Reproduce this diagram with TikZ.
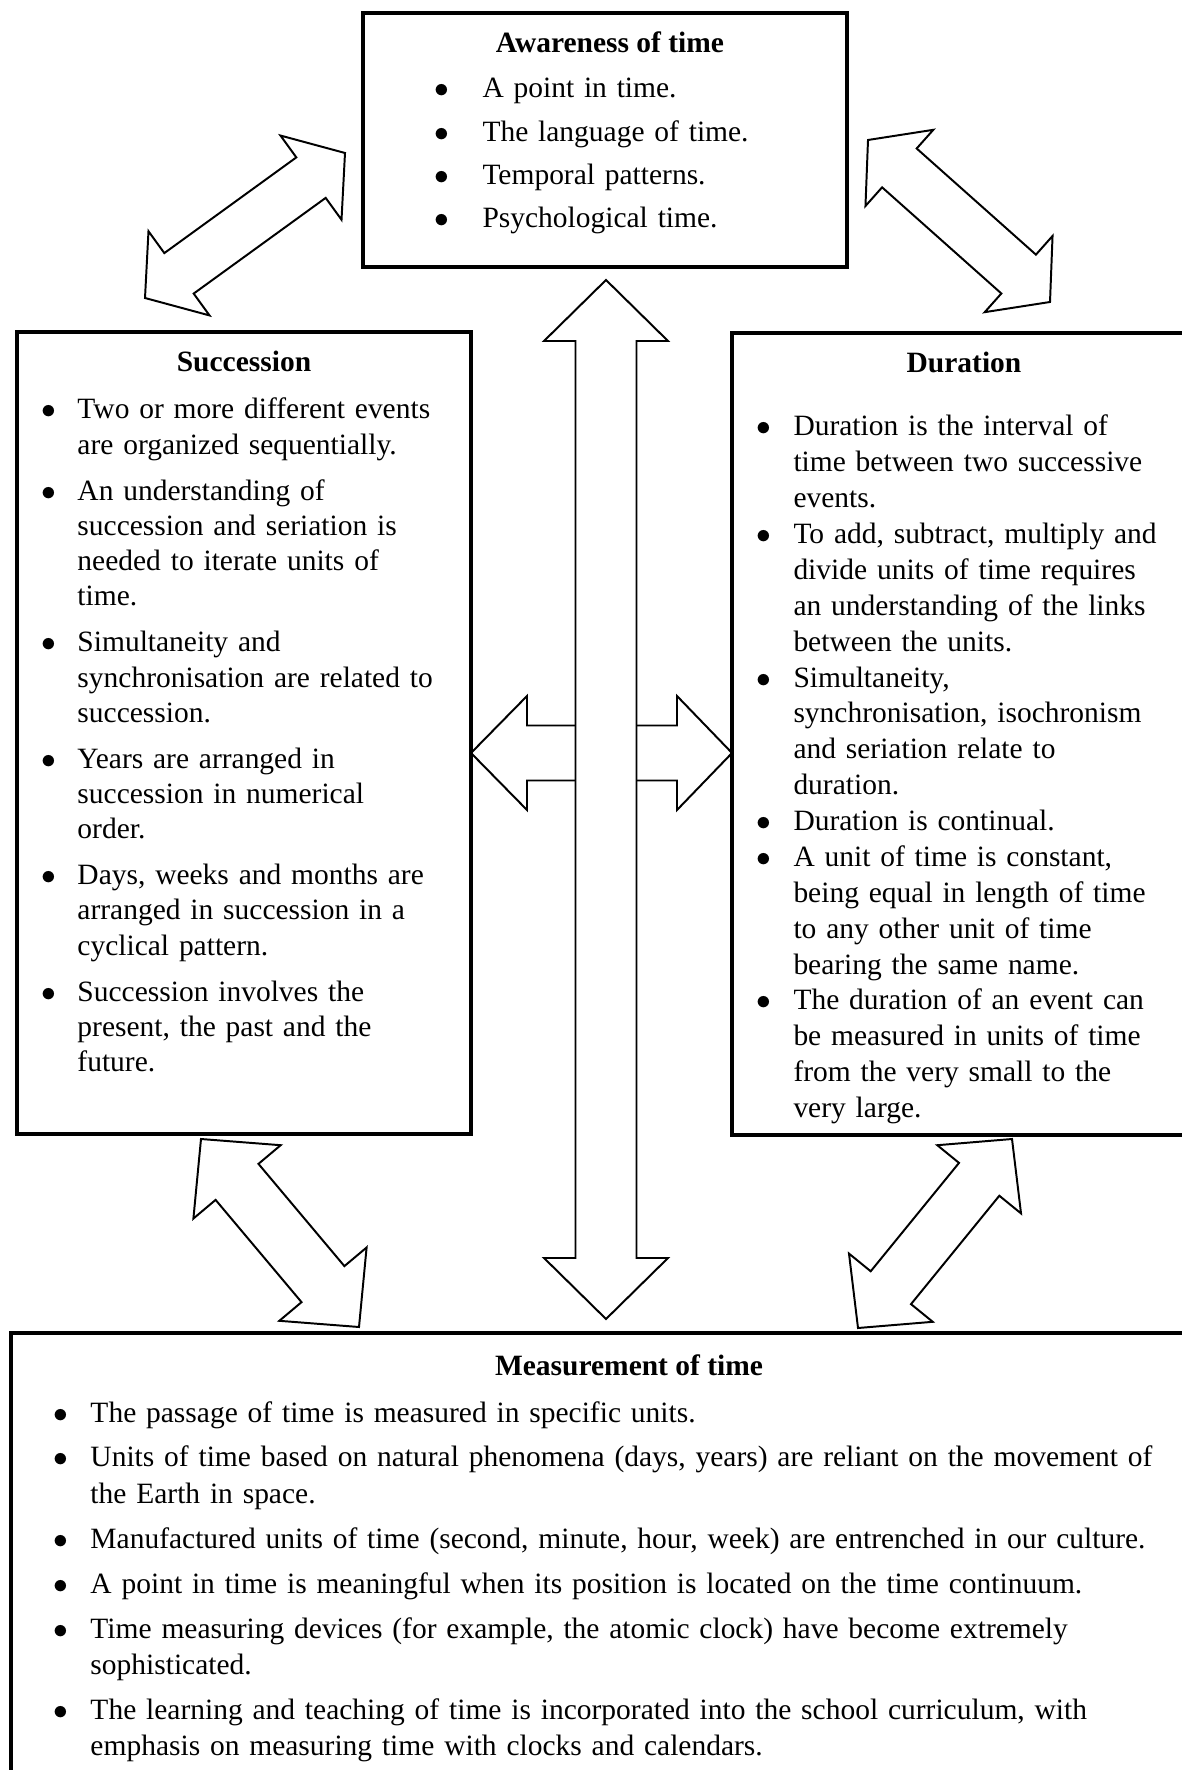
\documentclass[tikz,border=0pt]{standalone}
\usepackage{fontspec}
\setmainfont{Liberation Serif}
\usetikzlibrary{calc,fit,positioning}

\newlength{\px}\setlength{\px}{0.407pt}
\newlength{\bulw}
% one bullet point with hanging indent
\newcommand{\itm}[1]{\ifhmode\else\noindent\fi\hangindent=\bulw\hangafter=1\makebox[\bulw][l]{$\bullet$}#1\par}
% block double arrow between two points: from, to, head length, head half width, shaft half width (px)
\newcommand{\dblarrow}[5]{%
  \pgfmathsetlengthmacro{\ahl}{#3*\px}%
  \pgfmathsetlengthmacro{\ahw}{#4*\px}%
  \pgfmathsetlengthmacro{\asw}{#5*\px}%
  \draw[Block] (#1) -- ($(#1)!\ahl!(#2)!\ahw!90:(#2)$) -- ($(#1)!\ahl!(#2)!\asw!90:(#2)$)
    -- ($(#2)!\ahl!(#1)!\asw!-90:(#1)$) -- ($(#2)!\ahl!(#1)!\ahw!-90:(#1)$) -- (#2)
    -- ($(#2)!\ahl!(#1)!\ahw!90:(#1)$) -- ($(#2)!\ahl!(#1)!\asw!90:(#1)$)
    -- ($(#1)!\ahl!(#2)!\asw!-90:(#2)$) -- ($(#1)!\ahl!(#2)!\ahw!-90:(#2)$) -- cycle;}
% block arrow open at its tail (leaves the central shaft)
\newcommand{\sidearrow}[5]{%
  \pgfmathsetlengthmacro{\ahl}{#3*\px}%
  \pgfmathsetlengthmacro{\ahw}{#4*\px}%
  \pgfmathsetlengthmacro{\asw}{#5*\px}%
  \draw[Block] ($(#1)!\asw!90:(#2)$) -- ($(#2)!\ahl!(#1)!\asw!-90:(#1)$) -- ($(#2)!\ahl!(#1)!\ahw!-90:(#1)$)
    -- (#2) -- ($(#2)!\ahl!(#1)!\ahw!90:(#1)$) -- ($(#2)!\ahl!(#1)!\asw!90:(#1)$) -- ($(#1)!\asw!-90:(#2)$);}

\begin{document}
\begin{tikzpicture}[x=0.407pt, y=-0.407pt]
			\tikzstyle{Box}		= [draw, line width=1.6pt, inner sep=0pt, outer sep=0pt]
			\tikzstyle{Head}	= [font={\fontsize{12pt}{14.5pt}\selectfont\bfseries}, anchor=base, inner sep=0pt]
			\tikzstyle{List}	= [anchor=base west, inner sep=0pt, align=left, font={\fontsize{12pt}{14.5pt}\selectfont}]
			\tikzstyle{Block}	= [draw, line width=0.8pt, line join=miter]

			\useasboundingbox (0,0) rectangle (1182,1770);
			\clip (0,0) rectangle (1182,1770);

			% boxes
			\node (aware) [Box, fit={(363,13) (847,267)}] {};
			\node (succ) [Box, fit={(17,332) (471,1134)}] {};
			\node (dur) [Box, fit={(732,333) (1196,1135)}] {};
			\node (measure) [Box, fit={(11,1333) (1247,1800)}] {};

			\node (awaretitle) at ($(aware.north)+(5,40)$) [Head] {Awareness of time};
			\node (succtitle) at ($(succ.north)+(0,40)$) [Head] {Succession};
			\node (durtitle) at ($(dur.north)+(0,40)$) [Head] {Duration};
			\node (meastitle) at ($(measure.north)+(0,42)$) [Head] {Measurement of time};

			\node (awarelist) at ($(aware.north west)+(71,85)$) [List, text width=140pt] {%
				\setlength{\bulw}{48\px}\setlength{\parskip}{7.4\px}%
				\itm{A point in time.}
				\itm{The language of time.}
				\itm{Temporal patterns.}
				\itm{Psychological time.}};

			\node (succlist) at ($(succ.north west)+(24,87)$) [List, text width=171pt] {%
				\fontsize{12pt}{14.33pt}\selectfont%
				\setlength{\bulw}{36\px}\setlength{\parskip}{10.8\px}%
				\itm{Two or more different events\newline are organized sequentially.}
				\itm{An understanding of\newline succession and seriation is\newline needed to iterate units of\newline time.}
				\itm{Simultaneity and\newline synchronisation are related to\newline succession.}
				\itm{Years are arranged in\newline succession in numerical\newline order.}
				\itm{Days, weeks and months are\newline arranged in succession in a\newline cyclical pattern.}
				\itm{Succession involves the\newline present, the past and the\newline future.}};

			\node (durlist) at ($(dur.north west)+(24,103)$) [List, text width=175pt] {%
				\fontsize{12pt}{14.6pt}\selectfont%
				\setlength{\bulw}{37\px}\setlength{\parskip}{0pt}%
				\itm{Duration is the interval of\newline time between two successive\newline events.}
				\itm{To add, subtract, multiply and\newline divide units of time requires\newline an understanding of the links\newline between the units.}
				\itm{Simultaneity,\newline synchronisation, isochronism\newline and seriation relate to\newline duration.}
				\itm{Duration is continual.}
				\itm{A unit of time is constant,\newline being equal in length of time\newline to any other unit of time\newline bearing the same name.}
				\itm{The duration of an event can\newline be measured in units of time\newline from the very small to the\newline very large.}};

			\node (measlist) at ($(measure.north west)+(42,89)$) [List, text width=464pt] {%
				\fontsize{12pt}{14.75pt}\selectfont%
				\setlength{\bulw}{37\px}\setlength{\parskip}{8.7\px}%
				\itm{The passage of time is measured in specific units.}
				\itm{Units of time based on natural phenomena (days, years) are reliant on the movement of\newline the Earth in space.}
				\itm{Manufactured units of time (second, minute, hour, week) are entrenched in our culture.}
				\itm{A point in time is meaningful when its position is located on the time continuum.}
				\itm{Time measuring devices (for example, the atomic clock) have become extremely\newline sophisticated.}
				\itm{The learning and teaching of time is incorporated into the school curriculum, with\newline emphasis on measuring time with clocks and calendars.}};

			% arrow ends
			\coordinate (ul1) at (345,153);
			\coordinate (ul2) at (145,298);
			\coordinate (ur1) at (868,140);
			\coordinate (ur2) at (1050,302);
			\coordinate (ll1) at (201,1139);
			\coordinate (ll2) at (359,1327);
			\coordinate (lr1) at (1012,1139);
			\coordinate (lr2) at (858,1328);
			\coordinate (ctop) at ($(aware.south)+(1,13)$);
			\coordinate (cbot) at ($(ctop |- measure.north)+(0,-14)$);
			\coordinate (ltail) at (575,753);
			\coordinate (rtail) at (636,753);
			\coordinate (ltip) at (succ.east |- ltail);
			\coordinate (rtip) at (dur.west |- rtail);

			\dblarrow{ul1}{ul2}{42}{52}{25}
			\dblarrow{ur1}{ur2}{42}{51}{26}
			\dblarrow{ll1}{ll2}{56}{57}{28}
			\dblarrow{lr1}{lr2}{52}{54}{26}
			\sidearrow{ltail}{ltip}{56}{57}{27.5}
			\sidearrow{rtail}{rtip}{55}{57}{27.5}
			\dblarrow{ctop}{cbot}{61}{62}{30.5}
		\end{tikzpicture}
\end{document}
